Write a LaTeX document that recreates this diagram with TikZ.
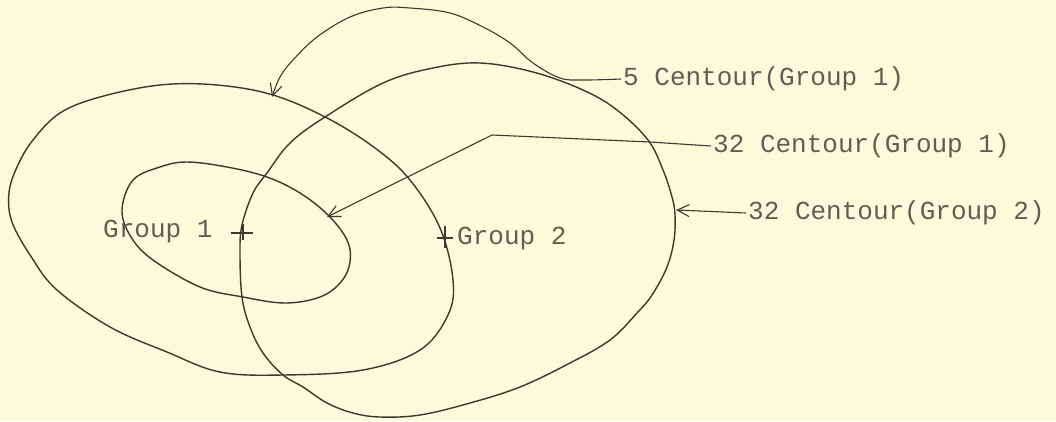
\documentclass[tikz,border=0pt]{standalone}
\usepackage{fontspec}
\setmonofont{Liberation Mono}
\usetikzlibrary{arrows.meta}
\definecolor{paper}{HTML}{FBFBDB}
\definecolor{ink}{HTML}{3A3A2E}
\definecolor{txt}{HTML}{5E5E52}
\tikzset{
  contour/.style={draw=ink, line width=1.4pt, line join=round},
  pointer/.style={draw=ink, line width=1.1pt, -{Straight Barb[length=12pt,width=12pt,line width=1.1pt]}},
  lead/.style={draw=ink, line width=1.1pt},
  lbl/.style={anchor=west, inner sep=2pt, text=txt, font=\ttfamily\fontsize{26}{28}\selectfont},
  centremark/.style={draw=ink, line width=1.2pt}
}
\begin{document}
\begin{tikzpicture}[x=1pt,y=-1pt]
\fill[paper] (0,0) rectangle (1056,421);
\useasboundingbox (0,0) rectangle (1056,421);

% outer contour, group 1 (5)
\draw[contour] plot[smooth cycle, tension=0.6] coordinates {
 (9,193) (17,167) (33,140) (60,113) (100,97) (160,85) (217,85) (273,95) (327,118)
 (375,148) (410,180) (440,228) (453,280) (448,315) (420,350) (363,370)
 (283,375) (220,372) (167,352) (110,327) (57,290) (32,258) (12,222)};

% inner contour, group 1 (32)
\draw[contour] plot[smooth cycle, tension=0.6] coordinates {
 (122,210) (133,180) (160,167) (187,162) (227,167) (267,177) (300,193)
 (328,215) (347,240) (350,262) (341,282) (320,297) (285,303) (243,297)
 (200,287) (153,260) (131,237)};

% contour, group 2 (32)
\draw[contour] plot[smooth cycle, tension=0.6] coordinates {
 (325,117) (383,83) (433,68) (480,63) (533,72) (583,90) (617,110)
 (648,140) (663,170) (672,197) (675,215) (674,240) (667,267) (652,295)
 (637,313) (610,340) (570,363) (520,387) (470,403) (420,415) (380,417)
 (353,413) (327,403) (303,387) (283,375) (263,353) (250,327) (242,297)
 (240,253) (242,225) (253,193) (267,173) (290,143)};

% labels
\node[lbl] (l5)  at (621,79)  {5 Centour(Group 1)};
\node[lbl] (l32a) at (711,146) {32 Centour(Group 1)};
\node[lbl] (l32b) at (746,213) {32 Centour(Group 2)};
\node[lbl] (g1) at (101,231) {Group 1};
\node[lbl] (g2) at (455,238) {Group 2};

% centres
\coordinate (c1) at (243,233);
\coordinate (c2) at (445,238);
\draw[centremark] ([xshift=-12pt]c1) -- ([xshift=10pt]c1) ([yshift=-7pt]c1) -- ([yshift=9pt]c1);
\draw[centremark] ([xshift=-8pt]c2) -- ([xshift=8pt]c2) ([yshift=-10pt]c2) -- ([yshift=12pt]c2);

% pointers
\coordinate (t5) at (272,97);
\draw[pointer] plot[smooth, tension=0.6] coordinates {
 (l5.west) (583,80) (560,78) (533,63) (510,43) (483,27) (450,13) (410,8)
 (383,8) (350,17) (317,37) (293,60) (280,77) (t5)};

\coordinate (k1) at (492,135);
\coordinate (t32a) at (327,217);
\draw[lead] (l32a.west) -- (650,142) -- (k1);
\draw[pointer] (k1) -- (t32a);

\coordinate (t32b) at (676,210);
\draw[pointer] (l32b.west) -- (t32b);
\end{tikzpicture}
\end{document}
